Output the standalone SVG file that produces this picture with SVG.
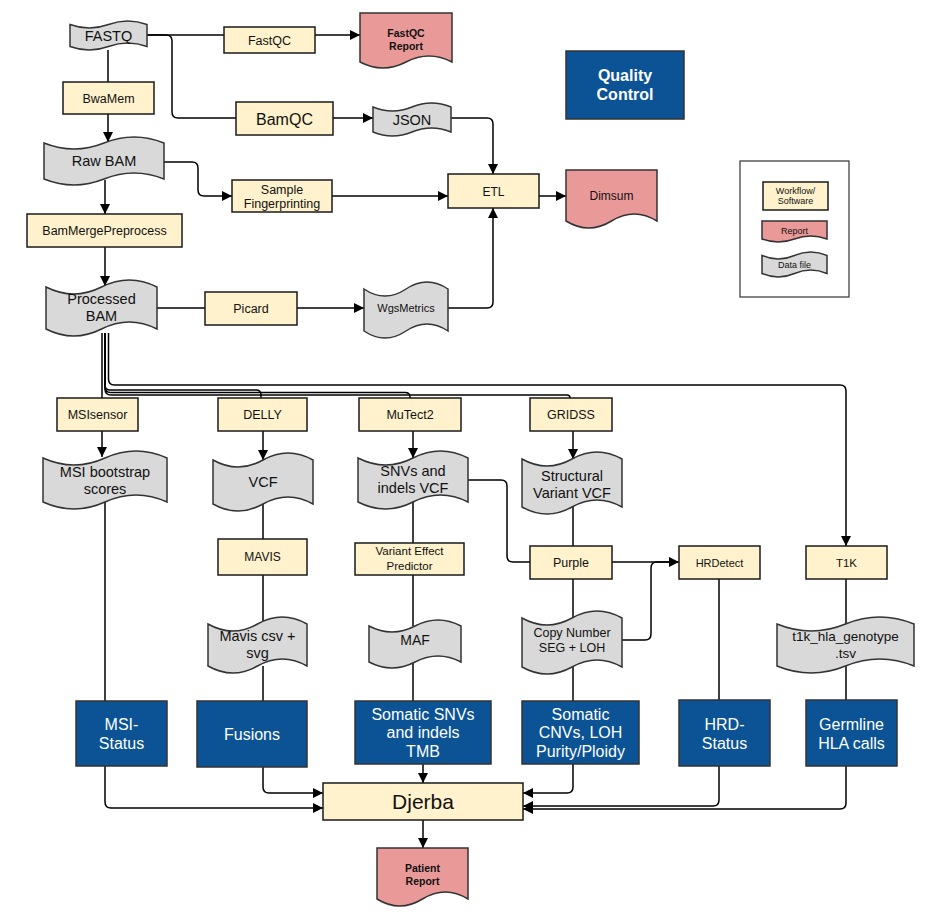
<svg xmlns="http://www.w3.org/2000/svg" width="936" height="924" viewBox="0 0 936 924">
<defs>
<marker id="arr" markerUnits="userSpaceOnUse" markerWidth="11" markerHeight="11" refX="10" refY="5" orient="auto">
<path d="M0,0 L10,5 L0,10 Z" fill="#000"/>
</marker>
<style>
.tool{fill:#fff2cc;stroke:#1a1a1a;stroke-width:1.5}
.data{fill:#d9d9d9;stroke:#333;stroke-width:1.5}
.report{fill:#ea9999;stroke:#333;stroke-width:1.5}
.out{fill:#0b5394;stroke:#333;stroke-width:1.5}
.c{fill:none;stroke:#000;stroke-width:1.5}
.a{marker-end:url(#arr)}
text{font-family:"Liberation Sans",Arial,Helvetica,sans-serif;text-anchor:middle;fill:#111}
.t{font-size:12.5px}
.d{font-size:14.5px}
.w{fill:#fff;font-size:16px}
.b{font-weight:bold}
</style>
</defs>
<rect width="936" height="924" fill="#fff"/>
<g id="connectors">
<path class="c" d="M147,35 H224"/>
<path class="c a" d="M315,35 H360"/>
<path class="c" d="M147,35 H166 Q172,35 172,41 V112 Q172,118 178,118 H236"/>
<path class="c a" d="M333,118 H373"/>
<path class="c a" d="M451,118 H487 Q493,118 493,124 V174"/>
<path class="c" d="M108,50 V82"/>
<path class="c a" d="M108,114 V142"/>
<path class="c a" d="M164,162 H192 Q198,162 198,168 V190 Q198,196 204,196 H232"/>
<path class="c a" d="M332,196 H448"/>
<path class="c a" d="M105,180 V214"/>
<path class="c a" d="M105,247 V286"/>
<path class="c" d="M157,308 H205"/>
<path class="c a" d="M297,308 H364"/>
<path class="c a" d="M448,308 H487 Q493,308 493,302 V208"/>
<path class="c a" d="M539,196 H566"/>
<path class="c" d="M102,333 V398"/>
<path class="c" d="M105,333 V385 Q105,390 110,390 H256 Q261,390 261,395 V398"/>
<path class="c" d="M105,333 V387 Q105,392.5 110.5,392.5 H405 Q410,392.5 410,397 V398"/>
<path class="c" d="M105,333 V389 Q105,395 111,395 H567 Q570,395 570,398"/>
<path class="c a" d="M108.5,333 V379 Q108.5,385 114.5,385 H840 Q846,385 846,391 V546"/>
<path class="c a" d="M102,431 V457"/>
<path class="c a" d="M263,431 V460"/>
<path class="c a" d="M413,431 V458"/>
<path class="c a" d="M573,431 V459"/>
<path class="c" d="M105,502 V701"/>
<path class="c" d="M263,504 V539"/>
<path class="c" d="M263,575 V623"/>
<path class="c" d="M263,666 V701"/>
<path class="c" d="M413,502 V543"/>
<path class="c" d="M413,575 V626"/>
<path class="c" d="M413,662 V701"/>
<path class="c" d="M468,480 H501 Q507,480 507,486 V556 Q507,562 513,562 H530"/>
<path class="c" d="M573,507 V546"/>
<path class="c" d="M573,579 V618"/>
<path class="c" d="M573,667 V701"/>
<path class="c a" d="M612,562 H679"/>
<path class="c" d="M622,640 H645 Q651,640 651,634 V568 Q651,562 657,562 H670"/>
<path class="c" d="M719,579 V700"/>
<path class="c" d="M846,579 V624"/>
<path class="c" d="M846,666 V700"/>
<path class="c a" d="M105,766 V802 Q105,808 111,808 H323"/>
<path class="c a" d="M263,767 V787 Q263,793 269,793 H323"/>
<path class="c a" d="M423,764 V783"/>
<path class="c a" d="M573,764 V787 Q573,793 567,793 H523"/>
<path class="c a" d="M719,766 V800 Q719,806 713,806 H523"/>
<path class="c a" d="M846,766 V803 Q846,809 840,809 H523"/>
<path class="c a" d="M423,820 V848"/>
</g>
<g id="fastq"><path class="data" d="M70,24.5 Q89.25,31.5 108.5,24.5 Q127.75,17.5 147,24.5 L147,46.5 Q127.75,39.5 108.5,46.5 Q89.25,53.5 70,46.5 Z"/><text class="d" x="108.5" y="40.5">FASTQ</text></g>
<g id="fastqc"><rect class="tool" x="224" y="27" width="91" height="26"/><text class="t" x="269.5" y="44.5">FastQC</text></g>
<g id="fastqc-report"><path class="report" d="M360,13 H452 V62 Q429,50 406,62 Q383,74 360,62 Z"/><text class="b" font-size="10.5" x="406" y="37">FastQC</text><text class="b" font-size="10.5" x="406" y="50">Report</text></g>
<g id="quality-control"><rect class="out" x="566" y="51" width="118" height="68"/><text class="w b" x="625" y="80.5">Quality</text><text class="w b" x="625" y="99.5">Control</text></g>
<g id="bwamem"><rect class="tool" x="63" y="82" width="91" height="32"/><text class="t" x="108.5" y="102.5">BwaMem</text></g>
<g id="bamqc"><rect class="tool" x="236" y="102" width="97" height="33"/><text font-size="16" x="284.5" y="124.5">BamQC</text></g>
<g id="json"><path class="data" d="M373,107 Q392.5,115 412,107 Q431.5,99 451,107 L451,132 Q431.5,124 412,132 Q392.5,140 373,132 Z"/><text class="d" x="412" y="125">JSON</text></g>
<g id="raw-bam"><path class="data" d="M44,143 Q74,155 104,143 Q134,131 164,143 L164,179 Q134,167 104,179 Q74,191 44,179 Z"/><text class="d" x="104" y="166">Raw BAM</text></g>
<g id="sample-fingerprinting"><rect class="tool" x="232" y="180" width="100" height="32"/><text class="t" x="282" y="193.5">Sample</text><text class="t" x="282" y="207.5">Fingerprinting</text></g>
<g id="etl"><rect class="tool" x="448" y="174" width="91" height="34"/><text font-size="12" x="493.5" y="196">ETL</text></g>
<g id="dimsum"><path class="report" d="M566,170 H657 V221 Q634.25,207 611.5,221 Q588.75,235 566,221 Z"/><text font-size="12" x="611.5" y="200">Dimsum</text></g>
<g id="bammergepreprocess"><rect class="tool" x="27" y="214" width="155" height="33"/><text class="t" x="104.5" y="235">BamMergePreprocess</text></g>
<g id="processed-bam"><path class="data" d="M46,287 Q73.75,301 101.5,287 Q129.25,273 157,287 L157,329 Q129.25,315 101.5,329 Q73.75,343 46,329 Z"/><text class="d" x="101.5" y="304">Processed</text><text class="d" x="101.5" y="321">BAM</text></g>
<g id="picard"><rect class="tool" x="205" y="292" width="92" height="33"/><text class="t" x="251" y="313">Picard</text></g>
<g id="wgsmetrics"><path class="data" d="M364,289 Q385,303 406,289 Q427,275 448,289 L448,331 Q427,317 406,331 Q385,345 364,331 Z"/><text font-size="11" x="406" y="312">WgsMetrics</text></g>
<g id="legend"><rect x="740" y="161" width="109" height="136" fill="#fff" stroke="#333" stroke-width="1.2"/>
<rect class="tool" x="763" y="182" width="65" height="28"/><text font-size="9" x="795.5" y="194">Workflow/</text><text font-size="9" x="795.5" y="204">Software</text>
<path class="report" d="M762,221 H827 V239 Q810.75,233 794.5,239 Q778.25,245 762,239 Z"/><text font-size="9" x="794.5" y="234">Report</text>
<path class="data" d="M762,255.5 Q778.25,262.5 794.5,255.5 Q810.75,248.5 827,255.5 L827,273.5 Q810.75,266.5 794.5,273.5 Q778.25,280.5 762,273.5 Z"/><text font-size="9" x="794.5" y="268">Data file</text></g>
<g id="msisensor"><rect class="tool" x="57" y="398" width="81" height="33"/><text class="t" x="97.5" y="419">MSIsensor</text></g>
<g id="delly"><rect class="tool" x="218" y="398" width="89" height="33"/><text class="t" x="262.5" y="419">DELLY</text></g>
<g id="mutect2"><rect class="tool" x="359" y="398" width="102" height="33"/><text class="t" x="410" y="419">MuTect2</text></g>
<g id="gridss"><rect class="tool" x="530" y="398" width="82" height="33"/><text class="t" x="571" y="419">GRIDSS</text></g>
<g id="msi-bootstrap"><path class="data" d="M43,458 Q74,472 105,458 Q136,444 167,458 L167,502 Q136,488 105,502 Q74,516 43,502 Z"/><text class="d" x="105" y="477">MSI bootstrap</text><text class="d" x="105" y="494">scores</text></g>
<g id="vcf"><path class="data" d="M213,460 Q238,474 263,460 Q288,446 313,460 L313,504 Q288,490 263,504 Q238,518 213,504 Z"/><text class="d" x="263" y="487">VCF</text></g>
<g id="snvs-vcf"><path class="data" d="M358,458 Q385.5,472 413,458 Q440.5,444 468,458 L468,502 Q440.5,488 413,502 Q385.5,516 358,502 Z"/><text class="d" x="413" y="476">SNVs and</text><text class="d" x="413" y="493">indels VCF</text></g>
<g id="sv-vcf"><path class="data" d="M522,459 Q547,473 572,459 Q597,445 622,459 L622,507 Q597,493 572,507 Q547,521 522,507 Z"/><text class="d" x="572" y="481">Structural</text><text class="d" x="572" y="498">Variant VCF</text></g>
<g id="mavis"><rect class="tool" x="218" y="539" width="89" height="36"/><text font-size="12" x="262.5" y="561">MAVIS</text></g>
<g id="vep"><rect class="tool" x="355" y="543" width="109" height="32"/><text font-size="11.5" x="409.5" y="555">Variant Effect</text><text font-size="11.5" x="409.5" y="570">Predictor</text></g>
<g id="purple"><rect class="tool" x="530" y="546" width="82" height="33"/><text class="t" x="571" y="567">Purple</text></g>
<g id="hrdetect"><rect class="tool" x="679" y="546" width="81" height="33"/><text font-size="11" x="719.5" y="566.5">HRDetect</text></g>
<g id="t1k"><rect class="tool" x="806" y="546" width="81" height="33"/><text font-size="11.5" x="846.5" y="566.5">T1K</text></g>
<g id="mavis-csv"><path class="data" d="M208,624 Q232.75,638 257.5,624 Q282.25,610 307,624 L307,666 Q282.25,652 257.5,666 Q232.75,680 208,666 Z"/><text class="d" x="257.5" y="641">Mavis csv +</text><text class="d" x="257.5" y="658">svg</text></g>
<g id="maf"><path class="data" d="M369,626 Q392,638 415,626 Q438,614 461,626 L461,662 Q438,650 415,662 Q392,674 369,662 Z"/><text font-size="14" x="415" y="645">MAF</text></g>
<g id="copy-number"><path class="data" d="M522,618 Q547,632 572,618 Q597,604 622,618 L622,667 Q597,653 572,667 Q547,681 522,667 Z"/><text class="t" x="572" y="637">Copy Number</text><text class="t" x="572" y="652">SEG + LOH</text></g>
<g id="t1k-tsv"><path class="data" d="M777,624 Q811.25,638 845.5,624 Q879.75,610 914,624 L914,666 Q879.75,652 845.5,666 Q811.25,680 777,666 Z"/><text font-size="13.5" x="845.5" y="641">t1k_hla_genotype</text><text font-size="13.5" x="845.5" y="658">.tsv</text></g>
<g id="msi-status"><rect class="out" x="76" y="701" width="91" height="65"/><text class="w" x="121.5" y="729.5">MSI-</text><text class="w" x="121.5" y="748.5">Status</text></g>
<g id="fusions"><rect class="out" x="197" y="701" width="110" height="66"/><text class="w" x="252" y="739.5">Fusions</text></g>
<g id="somatic-snvs"><rect class="out" x="355" y="701" width="136" height="63"/><text class="w" x="423" y="719.5">Somatic SNVs</text><text class="w" x="423" y="738">and indels</text><text class="w" x="423" y="756.5">TMB</text></g>
<g id="somatic-cnvs"><rect class="out" x="522" y="701" width="117" height="63"/><text class="w" x="580.5" y="719.5">Somatic</text><text class="w" x="580.5" y="738">CNVs, LOH</text><text class="w" x="580.5" y="756.5">Purity/Ploidy</text></g>
<g id="hrd-status"><rect class="out" x="679" y="700" width="91" height="66"/><text class="w" x="724.5" y="729.5">HRD-</text><text class="w" x="724.5" y="748.5">Status</text></g>
<g id="germline-hla"><rect class="out" x="806" y="700" width="91" height="66"/><text class="w" x="851.5" y="729.5">Germline</text><text class="w" x="851.5" y="748.5">HLA calls</text></g>
<g id="djerba"><rect class="tool" x="323" y="783" width="200" height="37"/><text font-size="21" x="423" y="809">Djerba</text></g>
<g id="patient-report"><path class="report" d="M377,848 H468 V899 Q445.25,885 422.5,899 Q399.75,913 377,899 Z"/><text class="b" font-size="10.5" x="422.5" y="872">Patient</text><text class="b" font-size="10.5" x="422.5" y="885">Report</text></g>
</svg>
